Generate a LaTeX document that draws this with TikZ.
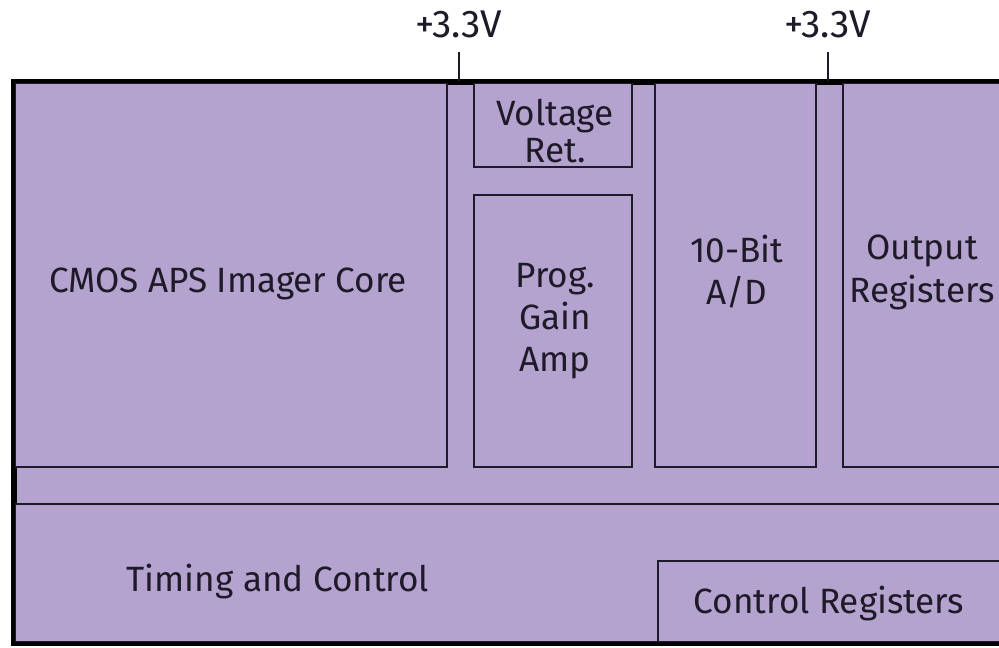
\documentclass[tikz,border=0pt]{standalone}
\usepackage{fontspec}
\setmainfont{Fira Sans}
\usetikzlibrary{fit}
\definecolor{chipfill}{RGB}{180,163,207}
\definecolor{inkdark}{RGB}{30,26,40}
\newcommand{\blkfont}{\fontsize{20}{24}\selectfont}

\begin{document}
\begin{tikzpicture}[
  x=0.02cm, y=-0.02cm,
  chip/.style={draw=black, fill=chipfill, line width=2.2pt, inner sep=0pt},
  blk/.style={draw=inkdark, fill=chipfill, line width=1.1pt, inner sep=0pt},
  lbl/.style={font=\blkfont, text=inkdark, inner sep=0pt, align=center, anchor=north},
  rail/.style={font=\fontsize{22}{26}\selectfont, text=inkdark, inner sep=0pt, anchor=north}
]
  \useasboundingbox (0,0) rectangle (999,647);

  % outer chip outline
  \node[chip, fit={(15,83) (1001,642)}] (chip) {};

  % signal path
  \node[blk, fit={(15,83) (447,467)}] (core) {};
  \node[blk, fit={(474,83) (632,167)}] (vref) {};
  \node[blk, fit={(474,195) (632,467)}] (pga) {};
  \node[blk, fit={(655,83) (816,467)}] (adc) {};
  \node[blk, fit={(843,83) (1001,467)}] (outreg) {};

  % timing and control
  \node[blk, fit={(15,504) (1001,642)}] (timing) {};
  \node[blk, fit={(658,561) (1001,642)}] (ctrlreg) {};

  % labels
  \node[lbl] (corelbl) at (228,268) {CMOS APS Imager Core};
  \node[lbl, font=\fontsize{20}{21}\selectfont] (vreflbl) at (555,99) {Voltage\\Ret.};
  \node[lbl] (pgalbl) at (555,263) {Prog.\\Gain\\Amp};
  \node[lbl] (adclbl) at (737,235) {10-Bit\\A/D};
  \node[lbl] (outreglbl) at (922,235) {Output\\Registers};
  \node[lbl] (timinglbl) at (278,564) {Timing and Control};
  \node[lbl] (ctrlreglbl) at (829,586) {Control Registers};

  % redraw outline on top
  \draw[black, line width=2.2pt] (chip.north west) rectangle (chip.south east);

  % supply rails
  \node[rail] (vdd1) at (459,11) {+3.3V};
  \node[rail] (vdd2) at (828,11) {+3.3V};
  \draw[inkdark, line width=1.1pt, shorten <=0.26cm] (vdd1.south) -- (vdd1.south |- chip.north);
  \draw[inkdark, line width=1.1pt, shorten <=0.26cm] (vdd2.south) -- (vdd2.south |- chip.north);
\end{tikzpicture}
\end{document}
